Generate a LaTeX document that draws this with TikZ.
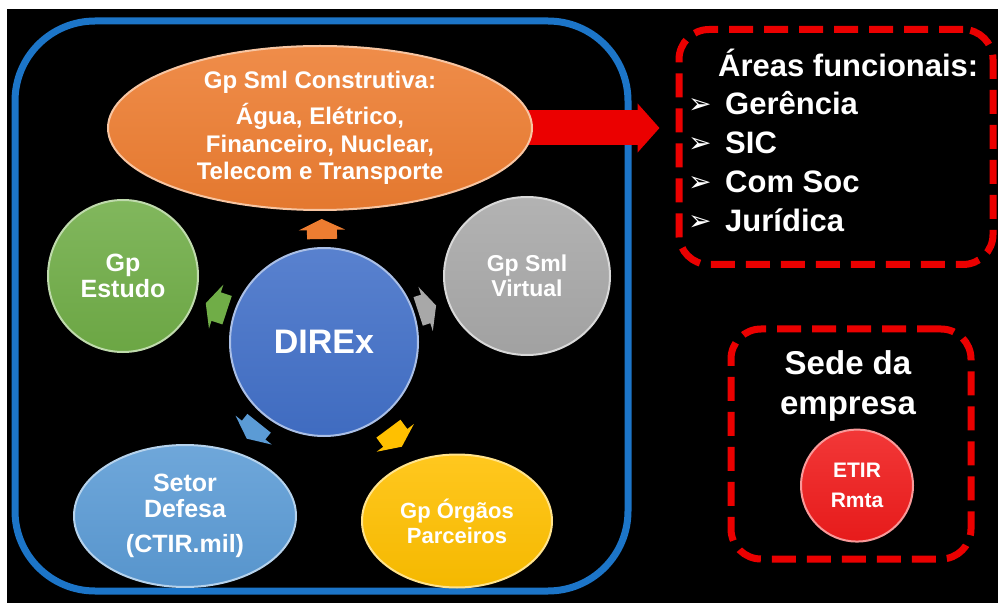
\documentclass[tikz,border=0pt]{standalone}
\usepackage{fontspec}
\setmainfont{Liberation Sans}
\newfontfamily\symfont{DejaVu Sans}
\usetikzlibrary{arrows.meta, positioning, shapes.geometric, backgrounds}

\definecolor{frameblue}{RGB}{28,117,200}
\definecolor{smlorange}{RGB}{237,125,49}
\definecolor{estgreen}{RGB}{112,173,71}
\definecolor{virtgray}{RGB}{168,168,168}
\definecolor{direxblue}{RGB}{66,112,200}
\definecolor{defblue}{RGB}{91,155,213}
\definecolor{parcyellow}{RGB}{255,192,0}
\definecolor{alertred}{RGB}{235,0,0}
\definecolor{etirred}{RGB}{240,28,28}

\begin{document}
\begin{tikzpicture}[
    x=1pt, y=1pt,
    every node/.style={font=\bfseries, text=white, inner sep=0pt},
    bubble/.style={ellipse, align=center, draw=#1!45!white, line width=2pt, top color=#1!88!white, bottom color=#1!96!black},
    redbox/.style={draw=alertred, line width=7pt, dash pattern=on 24pt off 11pt, rounded corners=30pt},
    spoke/.style={draw=#1, line width=30pt, -{Triangle[width=46pt, length=11pt]}},
    bigarr/.style={alertred, line width=35pt, -{Triangle[width=48pt, length=22pt]}},
]
\useasboundingbox (0,0) rectangle (998,603);

% Centre
\node[bubble=direxblue, circle, minimum size=188pt, font=\fontsize{34}{40}\selectfont\bfseries] (direx) at (324,261) {DIREx};

% Groups around
\node[bubble=smlorange, minimum width=424pt, minimum height=164pt, font=\fontsize{24}{27.5}\selectfont\bfseries] (constr) at (320,475)
    {Gp Sml Construtiva:\\[9pt] Água, Elétrico,\\ Financeiro, Nuclear,\\ Telecom e Transporte};
\node[bubble=estgreen, minimum width=150pt, minimum height=152pt, font=\fontsize{25}{26}\selectfont\bfseries] (estudo) at (123,327) {Gp\\ Estudo};
\node[bubble=virtgray, minimum width=166pt, minimum height=158pt, font=\fontsize{23}{25}\selectfont\bfseries] (virtual) at (527,327) {Gp Sml\\ Virtual};
\node[bubble=defblue, minimum width=222pt, minimum height=142pt, font=\fontsize{25}{25.5}\selectfont\bfseries] (defesa) at (185,87)
    {Setor\\ Defesa\\[10pt] (CTIR.mil)};
\node[bubble=parcyellow, minimum width=190pt, minimum height=133pt, font=\fontsize{22}{25}\selectfont\bfseries] (parceiros) at (457,82)
    {Gp Órgãos\\ Parceiros};

% Spokes
\draw[spoke=smlorange, shorten <=8pt, shorten >=8pt] (direx) -- (constr);
\draw[spoke=estgreen, shorten <=7pt, shorten >=11pt] (direx) -- (estudo);
\draw[spoke=virtgray, shorten <=4pt, shorten >=12pt] (direx) -- (virtual);
\draw[spoke=defblue, shorten <=9pt, shorten >=17pt] (direx) -- (defesa);
\draw[spoke=parcyellow, shorten <=13pt, shorten >=18pt] (direx) -- (parceiros);

% Areas funcionais
\node[redbox, minimum width=314pt, minimum height=235pt] (areas) at (836,456) {};
\node[anchor=base west, font=\fontsize{31}{39}\selectfont\bfseries] (areastit) at (718,526) {Áreas funcionais:};
\foreach \name [count=\i] in {Gerência, SIC, Com Soc, Jurídica}
    \node[anchor=base west, font=\fontsize{31}{39}\selectfont\bfseries] (item\i) at (688,{488-39*(\i-1)})
        {\makebox[37pt][l]{\symfont\fontsize{28}{28}\selectfont\raisebox{1pt}{➢}}\name};

% Sede
\node[redbox, minimum width=240pt, minimum height=230pt] (sede) at (851,159) {};
\node[align=center, font=\fontsize{33}{40}\selectfont\bfseries] (sedetxt) at (848,217) {Sede da\\ empresa};
\node[bubble=etirred, circle, minimum size=112pt, below=7pt of sedetxt, xshift=9pt, font=\fontsize{21}{30}\selectfont\bfseries] (etir) {ETIR\\ Rmta};

\begin{scope}[on background layer]
    \fill[white] (0,0) rectangle (998,603);
    \fill[black] (7,0) rectangle (998,594);
    \draw[frameblue, line width=7pt, rounded corners=80pt] (15,12) rectangle (628,582);
    \draw[bigarr, shorten <=-6pt, shorten >=16pt] (constr.east) -- (constr.east -| areas.west);
\end{scope}

\end{tikzpicture}
\end{document}
